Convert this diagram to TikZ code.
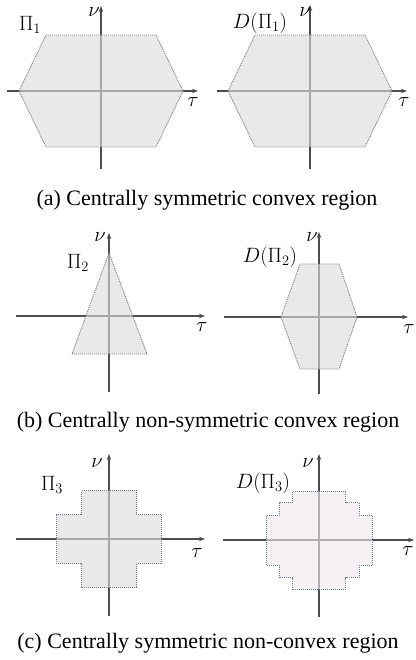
\documentclass[tikz,border=0pt]{standalone}
\usepackage{fontspec}
\setmainfont{Liberation Serif}
\usepackage{amsmath}
\usetikzlibrary{arrows.meta}

\definecolor{axisgray}{HTML}{4D4D4D}
\definecolor{edgegray}{HTML}{7A7A7A}
\definecolor{edgeblue}{HTML}{6E7C90}
\definecolor{regionfill}{HTML}{DFDADD}
\definecolor{regionlight}{HTML}{EEE8EE}

\begin{document}
\begin{tikzpicture}[
      x=1pt, y=1pt,
      axis/.style={draw=axisgray, line width=1.4pt, -{Stealth[length=6pt,width=4.5pt]}},
      region/.style={fill=regionfill, fill opacity=0.63, draw=edgegray,
        line width=0.9pt, dash pattern=on 1pt off 1pt},
      lbl/.style={font=\fontsize{21}{22}\selectfont, inner sep=0pt},
      capt/.style={font=\fontsize{22}{24}\selectfont, anchor=base, inner sep=0pt},
  ]
      \useasboundingbox (0,0) rectangle (415,-660);

      % --- (a) CONVEXA SIMETRICA ---
      \begin{scope}[shift={(101,-91)}]
        \coordinate (a1w) at (-94,0);
        \coordinate (a1e) at (97,0);
        \coordinate (a1s) at (0,-78);
        \coordinate (a1n) at (0,85);
        \draw[axis] (a1w) -- (a1e);
        \draw[axis] (a1s) -- (a1n);
        \filldraw[region] (-82,0) -- (-55,56) -- (55,56) -- (82,0) -- (55,-56) -- (-55,-56) -- cycle;
        \node[lbl] (pi1) at (-71,66) {$\Pi_1$};
        \node[lbl] (nu1) at (-7,79) {$\nu$};
        \node[lbl] (tau1) at (92,-11) {$\tau$};
      \end{scope}

      \begin{scope}[shift={(310,-91)}]
        \coordinate (a2w) at (-93,0);
        \coordinate (a2e) at (97,0);
        \coordinate (a2s) at (0,-78);
        \coordinate (a2n) at (0,86);
        \draw[axis] (a2w) -- (a2e);
        \draw[axis] (a2s) -- (a2n);
        \filldraw[region] (-82,0) -- (-55,56) -- (55,56) -- (82,0) -- (55,-56) -- (-55,-56) -- cycle;
        \node[lbl] (dpi1) at (-50,68) {$D(\Pi_1)$};
        \node[lbl] (nu2) at (-5,79) {$\nu$};
        \node[lbl] (tau2) at (94,-11) {$\tau$};
      \end{scope}

      \node[capt] (capa) at (207,-205) {(a) Centrally symmetric convex region};

      % --- (b) CONVEXA NAO SIMETRICA ---
      \begin{scope}[shift={(109,-316)}]
        \coordinate (b1w) at (-93,0);
        \coordinate (b1e) at (96,0);
        \coordinate (b1s) at (0,-76);
        \coordinate (b1n) at (0,83);
        \draw[axis] (b1w) -- (b1e);
        \draw[axis] (b1s) -- (b1n);
        \filldraw[region] (0,63) -- (38,-38) -- (-37,-38) -- cycle;
        \node[lbl] (pi2) at (-31,53) {$\Pi_2$};
        \node[lbl] (nu3) at (-9,79) {$\nu$};
        \node[lbl] (tau3) at (93,-11) {$\tau$};
      \end{scope}

      \begin{scope}[shift={(319,-317)}]
        \coordinate (b2w) at (-95,0);
        \coordinate (b2e) at (89,0);
        \coordinate (b2s) at (0,-77);
        \coordinate (b2n) at (0,85);
        \draw[axis] (b2w) -- (b2e);
        \draw[axis] (b2s) -- (b2n);
        \filldraw[region] (-38,0) -- (-19,53) -- (20,53) -- (38,0) -- (20,-52) -- (-19,-52) -- cycle;
        \node[lbl] (dpi2) at (-49,60) {$D(\Pi_2)$};
        \node[lbl] (nu4) at (-7,80) {$\nu$};
        \node[lbl] (tau4) at (90,-12) {$\tau$};
      \end{scope}

      \node[capt] (capb) at (208,-427) {(b) Centrally non-symmetric convex region};

      % --- (c) NAO CONVEXA SIMETRICA ---
      \begin{scope}[shift={(109,-539)}]
        \coordinate (c1w) at (-93,0);
        \coordinate (c1e) at (96,0);
        \coordinate (c1s) at (0,-77);
        \coordinate (c1n) at (0,85);
        \draw[axis] (c1w) -- (c1e);
        \draw[axis] (c1s) -- (c1n);
        \filldraw[region, draw=edgeblue] (-27.5,48.5) -- (27.5,48.5) -- (27.5,24.5) -- (52.5,24.5)
          -- (52.5,-24.5) -- (27.5,-24.5) -- (27.5,-48.5) -- (-27.5,-48.5) -- (-27.5,-24.5)
          -- (-52.5,-24.5) -- (-52.5,24.5) -- (-27.5,24.5) -- cycle;
        \node[lbl] (pi3) at (-57,54) {$\Pi_3$};
        \node[lbl] (nu5) at (-12,76) {$\nu$};
        \node[lbl] (tau5) at (88,-14) {$\tau$};
      \end{scope}

      \begin{scope}[shift={(319,-540)}]
        \coordinate (c2w) at (-96,0);
        \coordinate (c2e) at (95,0);
        \coordinate (c2s) at (0,-77);
        \coordinate (c2n) at (0,86);
        \draw[axis] (c2w) -- (c2e);
        \draw[axis] (c2s) -- (c2n);
        \filldraw[region, fill=regionlight, draw=edgeblue] (-26.5,49) -- (26.5,49) -- (26.5,37.5) -- (40,37.5)
          -- (40,25) -- (53,25) -- (53,-25) -- (40,-25) -- (40,-37.5) -- (26.5,-37.5)
          -- (26.5,-49) -- (-26.5,-49) -- (-26.5,-37.5) -- (-40,-37.5) -- (-40,-25)
          -- (-53,-25) -- (-53,25) -- (-40,25) -- (-40,37.5) -- (-26.5,37.5) -- cycle;
        \node[lbl] (dpi3) at (-56,57) {$D(\Pi_3)$};
        \node[lbl] (nu6) at (-11,77) {$\nu$};
        \node[lbl] (tau6) at (89,-11) {$\tau$};
      \end{scope}

      \node[capt] (capc) at (208,-648) {(c) Centrally symmetric non-convex region};

  \end{tikzpicture}
\end{document}
